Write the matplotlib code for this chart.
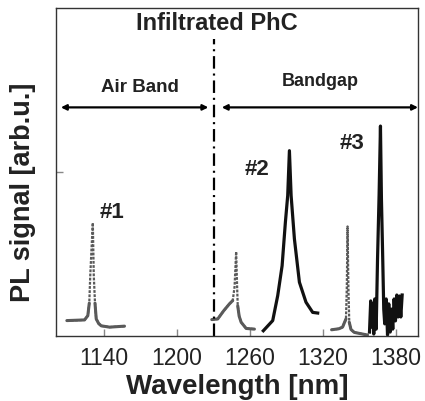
import numpy as np
import matplotlib
matplotlib.use("Agg")
import matplotlib.pyplot as plt

plt.rcParams['font.family'] = ['Liberation Sans', 'DejaVu Sans']
plt.rcParams['lines.scale_dashes'] = False

# Gray dashed spectra (air band / reference)
peak1_wl = [1109.9, 1124.4, 1127.1, 1128.3, 1129.1, 1130.2, 1131.2, 1132.0, 1133.0, 1134.0, 1136.0, 1138.1, 1144.9, 1157.2]
peak1_pl = [0.047, 0.049, 0.062, 0.10, 0.184, 0.27, 0.345, 0.184, 0.10, 0.052, 0.038, 0.031, 0.027, 0.030]

peak2g_wl = [1228.8, 1233.7, 1238.6, 1243.3, 1246.0, 1247.5, 1248.8, 1249.6, 1250.1, 1251.3, 1252.9, 1257.0, 1263.8]
peak2g_pl = [0.050, 0.052, 0.077, 0.098, 0.108, 0.15, 0.257, 0.15, 0.092, 0.06, 0.042, 0.023, 0.021]

peak3g_wl = [1327.1, 1333.0, 1336.1, 1338.9, 1339.6, 1340.2, 1340.9, 1341.6, 1343.0, 1345.7, 1356.6]
peak3g_pl = [0.019, 0.022, 0.027, 0.052, 0.15, 0.334, 0.15, 0.042, 0.02, 0.011, 0.003]

# Black solid spectra (bandgap modes)
peak2_wl = [1271.1, 1278.8, 1282.9, 1286.5, 1289.2, 1291.1, 1292.5, 1293.9, 1296.6, 1300.7, 1306.1, 1311.6, 1315.7]
peak2_pl = [0.016, 0.047, 0.123, 0.214, 0.347, 0.428, 0.565, 0.428, 0.296, 0.164, 0.103, 0.072, 0.070]

peak3_wl = [1358.2, 1359.2, 1360.0, 1360.9, 1361.7, 1362.5, 1363.7, 1364.8, 1366.1, 1367.2, 1368.0, 1368.9,
            1369.9, 1370.7, 1371.9, 1373.0, 1374.0, 1375.2, 1376.2, 1377.3, 1378.4, 1379.5, 1380.6, 1381.7,
            1382.8, 1383.9, 1385.0]
peak3_pl = [0.012, 0.107, 0.027, 0.098, 0.006, 0.113, 0.021, 0.235, 0.433, 0.640, 0.418, 0.265,
            0.082, 0.037, 0.113, 0.003, 0.098, 0.012, 0.082, 0.021, 0.113, 0.046, 0.125, 0.058,
            0.122, 0.058, 0.125]

boundary_wl = 1231
xticks = [1140, 1200, 1260, 1320, 1380]
yticks = [0.5]

fig = plt.figure(figsize=(4.25, 4.02), dpi=100)
ax = fig.add_axes([56/425, 1-337/402, (418-56)/425, (337-9)/402])
ax.set_xlim(1101, 1398)
ax.set_ylim(0, 1)

gray = '#5a5a5a'
black = '#111111'

for wl, pl in [(peak1_wl, peak1_pl), (peak2g_wl, peak2g_pl), (peak3g_wl, peak3g_pl)]:
    wl = np.array(wl); pl = np.array(pl)
    ax.plot(wl, pl, color=gray, lw=1.6, dashes=(2.0, 1.0))
    ax.plot(wl, np.where(pl < 0.11, pl, np.nan), color=gray, lw=2.2, solid_capstyle='round')

ax.plot(peak2_wl, peak2_pl, color=black, lw=2.3)
ax.plot(peak3_wl, peak3_pl, color=black, lw=2.3)

ax.plot([boundary_wl, boundary_wl], [0, 0.905], color='black', lw=1.6, dashes=(9, 3.5, 1.5, 3.5))

ax.annotate('', xy=(1105, 0.697), xytext=(1226, 0.697),
            arrowprops=dict(arrowstyle='<|-|>', color='black', lw=1.6, mutation_scale=8, shrinkA=0, shrinkB=0))
ax.annotate('', xy=(1237, 0.697), xytext=(1398, 0.697),
            arrowprops=dict(arrowstyle='<|-|>', color='black', lw=1.6, mutation_scale=8, shrinkA=0, shrinkB=0))

ax.text(1170, 0.762, 'Air Band', ha='center', va='center', fontsize=13.5, fontweight='bold', color='#222')
ax.text(1318, 0.778, 'Bandgap', ha='center', va='center', fontsize=13, fontweight='bold', color='#222')
ax.text(1233, 0.957, 'Infiltrated PhC', ha='center', va='center', fontsize=17, fontweight='bold', color='#222')
ax.text(1147, 0.38, '#1', ha='center', va='center', fontsize=16, fontweight='bold', color='#222')
ax.text(1266, 0.51, '#2', ha='center', va='center', fontsize=16, fontweight='bold', color='#222')
ax.text(1344, 0.59, '#3', ha='center', va='center', fontsize=16, fontweight='bold', color='#222')

ax.set_xticks(xticks)
ax.set_xticklabels([str(t) for t in xticks])
ax.set_yticks(yticks)
ax.set_yticklabels([])
ax.tick_params(direction='in', length=5, width=1, color='#888', labelsize=16.5, pad=7, labelcolor='#222')
for s in ax.spines.values():
    s.set_color('#333')
    s.set_linewidth(1.0)

ax.set_xlabel('Wavelength [nm]', fontsize=20, fontweight='bold', color='#222', labelpad=3)
fig.text(23/425, 1-192/402, 'PL signal [arb.u.]', rotation=90, ha='center', va='center',
         fontsize=19.5, fontweight='bold', color='#222')

fig.savefig('out.png', dpi=100)
